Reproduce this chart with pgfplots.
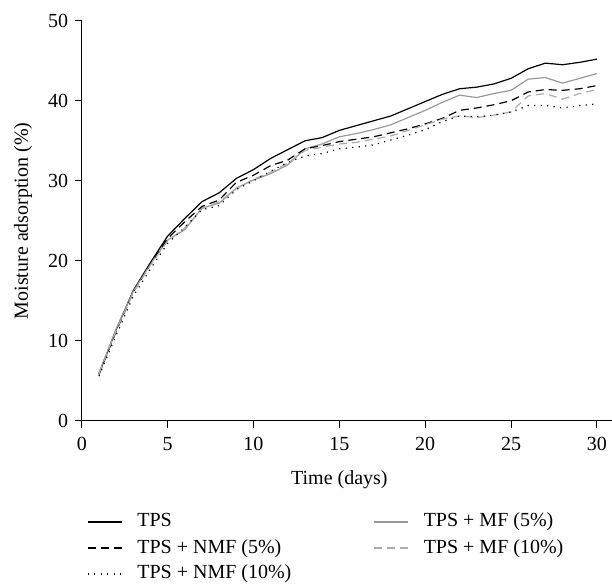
\documentclass[border=0pt]{standalone}
\usepackage{fontspec}
\setmainfont{Liberation Serif}
\usepackage{pgfplots}
\usepackage{pgfplotstable}
\pgfplotsset{compat=1.18}
\pgfplotstableread{
day TPS NMFa NMFb MFa MFb
1 5.9 5.8 5.6 6.0 5.9
2 11.4 11.2 10.7 11.5 11.3
3 16.3 16.1 15.6 16.2 16.1
4 19.8 19.6 19.0 19.6 19.5
5 23.1 22.8 22.2 22.6 22.5
6 25.3 24.9 24.2 23.9 24.1
7 27.4 26.8 26.4 26.6 26.5
8 28.5 27.6 26.9 27.2 27.4
9 30.3 29.8 28.9 29.1 29.0
10 31.4 30.7 30.0 30.1 30.2
11 32.8 31.9 31.2 30.9 31.1
12 33.9 32.6 32.3 32.0 32.2
13 35.0 34.0 33.1 34.0 33.8
14 35.4 34.4 33.4 34.6 34.2
15 36.3 34.9 34.0 35.5 34.6
16 36.9 35.2 34.2 35.9 34.8
17 37.5 35.5 34.5 36.4 35.2
18 38.1 36.0 35.1 37.0 35.6
19 39.0 36.5 35.7 37.9 36.3
20 39.9 37.1 36.4 38.8 37.0
21 40.8 37.8 37.4 39.8 37.7
22 41.5 38.8 38.1 40.7 38.1
23 41.7 39.1 38.0 40.4 37.9
24 42.1 39.5 38.2 40.9 38.2
25 42.8 40.0 38.6 41.3 38.6
26 44.0 41.1 39.4 42.7 40.6
27 44.7 41.4 39.4 42.9 40.9
28 44.5 41.3 39.1 42.2 40.2
29 44.8 41.5 39.4 42.8 40.9
30 45.2 41.9 39.6 43.4 41.4
}\datatable
\begin{document}
\begin{tikzpicture}
\path[use as bounding box] (-40.9pt,-81.5pt) rectangle (265.1pt,210.5pt);
\begin{axis}[
  at={(0pt,0pt)}, anchor=south west,
  scale only axis,
  width=265.1pt, height=200.15pt,
  xmin=0, xmax=30.88, ymin=0, ymax=50,
  axis lines=left,
  axis line style={-, line width=0.5pt},
  tick style={black, line width=0.5pt},
  tick align=outside,
  major tick length=3.3pt,
  xtick={0,5,...,30}, ytick={0,10,...,50},
  /pgf/number format/assume math mode=true,
  ticklabel style={font=\fontsize{10}{12}\selectfont},
  xticklabel style={yshift=-1.5pt},
  label style={font=\fontsize{10}{12}\selectfont},
  xlabel={Time (days)},
  ylabel={Moisture adsorption (\%)},
  every axis x label/.style={at={(axis description cs:0.4858,0)}, yshift=-29.5pt, anchor=center},
  every axis y label/.style={at={(axis description cs:0,0.5)}, xshift=-29.4pt, rotate=90, anchor=center},
  legend columns=2,
  legend cell align=left,
  legend style={at={(axis description cs:0,0)}, anchor=north west, xshift=2.6pt, yshift=-46pt,
    draw=none, inner sep=0pt, outer sep=0pt, font=\fontsize{10}{12}\selectfont,
    nodes={inner sep=0pt, text height=7pt, text depth=2pt},
    /tikz/every odd column/.append style={column sep=7.5pt},
    /tikz/every even column/.append style={column sep=41pt},
    row sep=4pt},
]
\addplot[black, line width=0.6pt] table[x=day,y=TPS] {\datatable};
\addlegendentry{TPS}
\addplot[gray!80, line width=0.6pt] table[x=day,y=MFa] {\datatable};
\addlegendentry{TPS + MF (5\%)}
\addplot[black, line width=0.6pt, dash pattern=on 4pt off 2.5pt] table[x=day,y=NMFa] {\datatable};
\addlegendentry{TPS + NMF (5\%)}
\addplot[gray!65, line width=0.6pt, dash pattern=on 4pt off 2.5pt] table[x=day,y=MFb] {\datatable};
\addlegendentry{TPS + MF (10\%)}
\addplot[black, line width=0.6pt, dash pattern=on 0.6pt off 2.65pt] table[x=day,y=NMFb] {\datatable};
\addlegendentry{TPS + NMF (10\%)}
\end{axis}
\end{tikzpicture}
\end{document}
